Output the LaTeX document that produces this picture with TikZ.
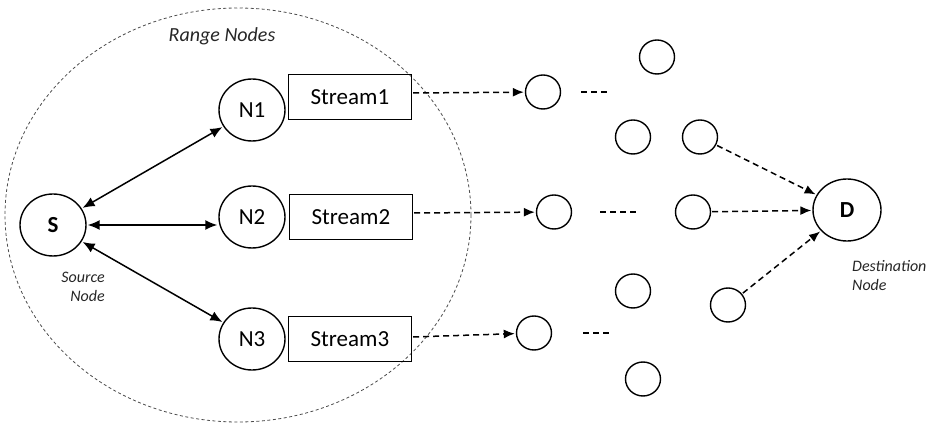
\documentclass[tikz,border=0pt]{standalone}
\usepackage{fontspec}
\setmainfont{Carlito}
\usetikzlibrary{shapes.geometric, arrows.meta}
\usetikzlibrary{positioning}

\begin{document}
\begin{tikzpicture}[x=1pt, y=-1pt,
        every node/.style={font=\fontsize{23}{27}\selectfont},
        every edge/.style={draw=black, line width=1.5pt, shorten <=1pt, shorten >=1pt},
        % nodes
        big/.style={ellipse, draw=black, line width=1.4pt, minimum width=66pt, minimum height=62pt, inner sep=0pt},
        relay/.style={ellipse, draw=black, line width=1.4pt, minimum width=35pt, minimum height=34pt, inner sep=0pt},
        streambox/.style={rectangle, draw=black, line width=1.4pt, minimum width=123pt, minimum height=45pt, inner sep=0pt},
        lbl/.style={font=\fontsize{16}{19}\selectfont\itshape, text=black!85, inner sep=0pt},
        % lines
        link/.style={<->, >={Latex[length=12pt,width=10pt]}},
        hop/.style={->, >={Latex[length=11pt,width=9pt]}, dash pattern=on 6pt off 4pt, shorten <=3pt},
        gap/.style={draw=black, line width=1.5pt, dash pattern=on 6pt off 4pt},
        rangeline/.style={draw=black!70, line width=0.8pt, dash pattern=on 3pt off 2.5pt},]

        \useasboundingbox (0,0) rectangle (935,427);

        \draw [rangeline] (238,215) ellipse [x radius=233, y radius=207];
        \node (range) [font=\fontsize{20}{24}\selectfont\itshape, text=black!85] at (222,36) {Range Nodes};

        \node[big] (S) at (53,225) {\bfseries S};
        \node[big] (N1) at (252,110) {N1};
        \node[big] (N2) at (252,217) {N2};
        \node[big] (N3) at (252,339) {N3};

        \node[streambox] (s1) [right=2pt of N1, yshift=13pt] {Stream1};
        \node[streambox] (s2) [right=3pt of N2] {Stream2};
        \node[streambox] (s3) [right=2pt of N3] {Stream3};

        \node[lbl, align=right, anchor=north east] (srclbl) at (105,272) {Source\\Node};

        \node[relay] (h1) at (543,92) {};
        \node[relay] (h2) at (554,212) {};
        \node[relay] (h3) at (534,333) {};

        \node[relay] (r1) at (657,57) {};
        \node[relay] (r2) at (633,137) {};
        \node[relay] (r3) at (700,137) {};
        \node[relay] (r4) at (693,212) {};
        \node[relay] (r5) at (633,291) {};
        \node[relay] (r6) at (728,305) {};
        \node[relay] (r7) at (643,379) {};

        \node[big, minimum width=68pt] (D) at (847,210) {\bfseries D};
        \node[lbl, align=left, anchor=north west] (dstlbl) at (852,260) {Destination\\Node};

        \path[link] (S) edge (N1);
        \path[link] (S.east) edge (S.east -| N2.west);
        \path[link] (S) edge (N3);

        \path[hop] ([yshift=4pt]s1.east) edge [shorten <=1pt] (h1);
        \path[hop] ([yshift=4pt]s2.east) edge [shorten <=1pt] (h2);
        \path[hop] ([yshift=2pt]s3.east) edge [shorten <=1pt] (h3);

        \draw [gap] ([xshift=20pt]h1.east) -- ++(27,0);
        \draw [gap] ([xshift=28pt]h2.east) -- ++(38,0);
        \draw [gap] ([xshift=31pt]h3.east) -- ++(29,0);

        \path[hop] (r3) edge (D);
        \path[hop] (r4) edge (D);
        \path[hop] (r6) edge (D);

    \end{tikzpicture}
\end{document}
